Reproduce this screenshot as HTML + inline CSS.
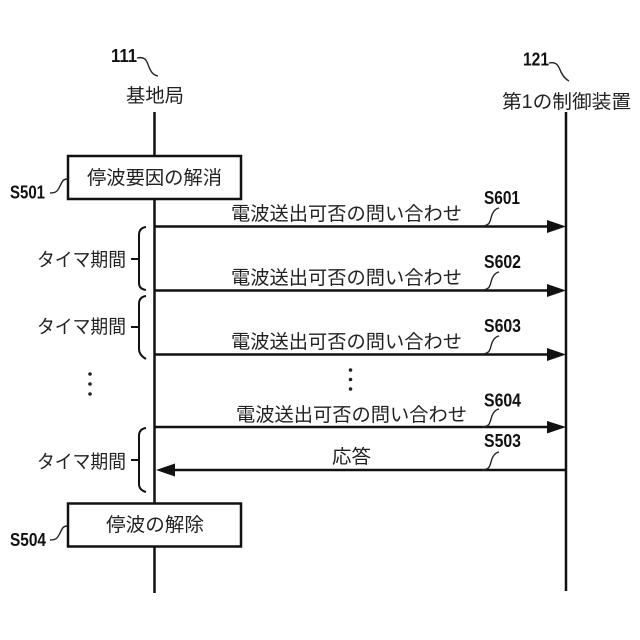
<!DOCTYPE html>
<html lang="ja">
<head>
<meta charset="utf-8">
<style>
html,body{margin:0;padding:0;background:#fff;width:640px;height:640px;overflow:hidden}
svg{display:block}
.j{font-family:"Liberation Sans","Noto Sans CJK JP",sans-serif;font-size:19px;fill:#222}
.n{font-family:"Liberation Sans",sans-serif;font-size:18px;font-weight:bold;fill:#111}
.l{fill:none;stroke:#111;stroke-width:2.5}
.t{fill:none;stroke:#222;stroke-width:1.4}
.b{fill:none;stroke:#111;stroke-width:2}
</style>
</head>
<body>
<svg width="640" height="640" viewBox="0 0 640 640" xmlns="http://www.w3.org/2000/svg">
<rect width="640" height="640" fill="#fff"/>
<!-- lifelines -->
<path class="l" d="M154.500 112V593M566 112V591"/>
<!-- boxes -->
<rect x="68" y="156" width="173" height="43" fill="#fff" stroke="#111" stroke-width="2.5"/>
<rect x="68" y="503.500" width="173" height="43" fill="#fff" stroke="#111" stroke-width="2.5"/>
<!-- arrows -->
<path class="l" d="M155 226.500H550M155 290.500H550M155 354.500H550M155 427H550M172 470H566"/>
<path fill="#111" d="M547 220L566 226.500L547 233ZM547 284L566 290.500L547 297ZM547 348L566 354.500L547 361ZM547 421L566 427L547 433.500ZM175 463.500L156 470L175 476.500Z"/>
<!-- braces -->
<path class="b" d="M146 227Q139 228 139 235V283Q139 289 146 290"/>
<path class="b" d="M146 296Q139 297 139 304V349Q139 355 146 359"/>
<path class="b" d="M146 428Q139 429 139 436V484Q139 490 146 492"/>
<path class="b" d="M131 259H139M131 327H139M131 460H139"/>
<!-- leader squiggles -->
<path class="t" d="M137 58C146 56 147 62 149 67C151 72 153 75 158 76"/>
<path class="t" d="M549 63C558 61 559 68 561 72C563 76 565 79 569 81"/>
<path class="t" d="M50 193C57 193 58 190 60 186C62 182 63 179 67 179"/>
<path class="t" d="M50 540C57 540 58 537 60 533C62 529 63 526 67 526"/>
<path class="t" d="M482 226C489 226 490 222 491 218C492 214 494 209 499 208"/>
<path class="t" d="M482 290C489 290 490 286 491 282C492 278 494 273 499 272"/>
<path class="t" d="M482 354C489 354 490 350 491 346C492 342 494 337 499 336"/>
<path class="t" d="M482 427C489 427 490 423 491 419C492 415 494 410 499 409"/>
<path class="t" d="M482 470C489 470 490 466 491 462C492 458 494 453 499 452"/>
<!-- dots -->
<g fill="#222">
<circle cx="90" cy="374" r="1.800"/><circle cx="90" cy="384" r="1.800"/><circle cx="90" cy="394" r="1.800"/>
<circle cx="350.500" cy="370" r="1.800"/><circle cx="350.500" cy="379.500" r="1.800"/><circle cx="350.500" cy="389" r="1.800"/>
</g>
<!-- ref numbers -->
<text class="n" x="111" y="62" textLength="26" lengthAdjust="spacingAndGlyphs">111</text>
<text class="n" x="523" y="65.500" textLength="26" lengthAdjust="spacingAndGlyphs">121</text>
<text class="n" x="10" y="198.500" textLength="35" lengthAdjust="spacingAndGlyphs">S501</text>
<text class="n" x="10" y="546" textLength="36" lengthAdjust="spacingAndGlyphs">S504</text>
<text class="n" x="484" y="204" textLength="36" lengthAdjust="spacingAndGlyphs">S601</text>
<text class="n" x="484" y="268" textLength="37" lengthAdjust="spacingAndGlyphs">S602</text>
<text class="n" x="484" y="332" textLength="37" lengthAdjust="spacingAndGlyphs">S603</text>
<text class="n" x="484" y="406.500" textLength="37" lengthAdjust="spacingAndGlyphs">S604</text>
<text class="n" x="484" y="447" textLength="37" lengthAdjust="spacingAndGlyphs">S503</text>
<!-- labels -->
<text class="j" x="126" y="102" textLength="58" lengthAdjust="spacingAndGlyphs">基地局</text>
<text class="j" x="502" y="108" textLength="129" lengthAdjust="spacingAndGlyphs">第1の制御装置</text>
<text class="j" x="87" y="184" textLength="135" lengthAdjust="spacingAndGlyphs">停波要因の解消</text>
<text class="j" x="106" y="531" textLength="98" lengthAdjust="spacingAndGlyphs">停波の解除</text>
<text class="j" x="231" y="220" textLength="231" lengthAdjust="spacingAndGlyphs">電波送出可否の問い合わせ</text>
<text class="j" x="231" y="284" textLength="231" lengthAdjust="spacingAndGlyphs">電波送出可否の問い合わせ</text>
<text class="j" x="231" y="348" textLength="231" lengthAdjust="spacingAndGlyphs">電波送出可否の問い合わせ</text>
<text class="j" x="236" y="421" textLength="231" lengthAdjust="spacingAndGlyphs">電波送出可否の問い合わせ</text>
<text class="j" x="332" y="463" textLength="39" lengthAdjust="spacingAndGlyphs">応答</text>
<text class="j" x="37" y="266" textLength="89" lengthAdjust="spacingAndGlyphs">タイマ期間</text>
<text class="j" x="37" y="333" textLength="89" lengthAdjust="spacingAndGlyphs">タイマ期間</text>
<text class="j" x="37" y="468" textLength="89" lengthAdjust="spacingAndGlyphs">タイマ期間</text>
</svg>
</body>
</html>
